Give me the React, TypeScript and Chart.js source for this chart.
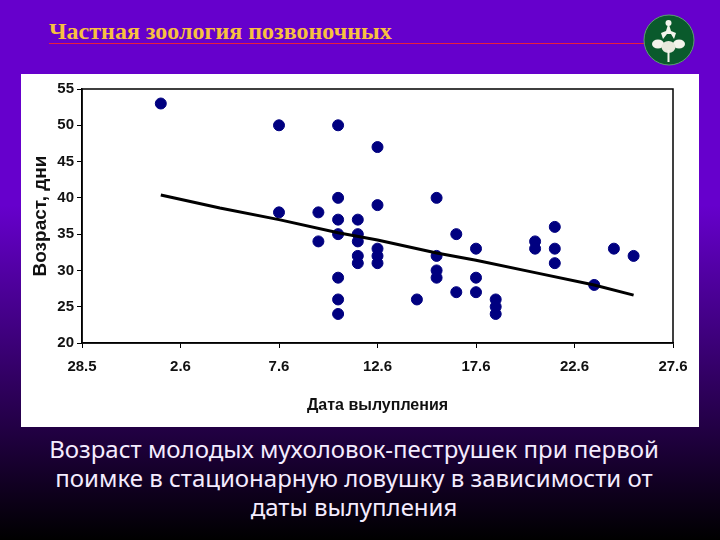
import React, { useEffect, useRef } from 'react';
import { Chart, registerables } from 'chart.js';

Chart.register(...registerables);

// days are counted from 28.5 (tick every 5 days)
const TICK_LABELS = ['28.5', '2.6', '7.6', '12.6', '17.6', '22.6', '27.6'];

const HATCH_DAYS = [
  4, 10, 10, 12, 12, 13, 13, 13, 13, 13, 13, 13,
  14, 14, 14, 14, 14, 15, 15, 15, 15, 15, 17,
  18, 18, 18, 18, 19, 19, 20, 20, 20, 21, 21, 21,
  23, 23, 24, 24, 24, 26, 27, 28,
];
const AGES = [
  53, 50, 38, 38, 34, 50, 40, 37, 35, 29, 26, 24,
  37, 35, 34, 32, 31, 47, 39, 33, 32, 31, 26,
  40, 32, 30, 29, 35, 27, 33, 29, 27, 26, 25, 24,
  34, 33, 36, 33, 31, 28, 33, 32,
];

const TREND_DAYS = [4, 7, 10, 13, 15, 18, 20, 23, 26, 28];
const TREND_AGES = [40.4, 38.6, 37, 35.2, 34.2, 32.4, 31.4, 29.7, 28, 26.6];

const frame = {
  id: 'frame',
  afterDraw(chart: Chart) {
    const { ctx, chartArea: a } = chart;
    ctx.save();
    ctx.strokeStyle = '#000';
    ctx.lineWidth = 1.5;
    ctx.strokeRect(a.left, a.top, a.right - a.left, a.bottom - a.top);
    ctx.restore();
  },
};

const App: React.FC = () => {
  const canvasRef = useRef<HTMLCanvasElement>(null);

  useEffect(() => {
    if (!canvasRef.current) return;
    const tickFont = { family: '"Liberation Sans Narrow", "Liberation Sans"', size: 15, weight: 'bold' as const };
    const chart = new Chart(canvasRef.current, {
      type: 'scatter',
      data: {
        datasets: [
          {
            label: 'Тренд',
            type: 'line',
            data: TREND_DAYS.map((x, i) => ({ x, y: TREND_AGES[i] })),
            borderColor: '#000',
            borderWidth: 3,
            pointRadius: 0,
            fill: false,
            order: 1,
          },
          {
            label: 'Возраст',
            data: HATCH_DAYS.map((x, i) => ({ x, y: AGES[i] })),
            backgroundColor: '#000080',
            borderColor: '#000080',
            pointRadius: 5.5,
            order: 2,
          },
        ],
      },
      options: {
        animation: false,
        responsive: false,
        layout: { padding: { top: 15, right: 26 } },
        plugins: { legend: { display: false }, tooltip: { enabled: false } },
        scales: {
          x: {
            type: 'linear',
            min: 0,
            max: 30,
            afterFit: (s: any) => { s.height = 84; },
            ticks: {
              stepSize: 5,
              color: '#111',
              font: tickFont,
              padding: 10,
              maxRotation: 0,
              callback: (v) => TICK_LABELS[Number(v) / 5],
            },
            grid: { drawOnChartArea: false, tickLength: 5, color: '#000' },
            border: { color: '#000', width: 1.5 },
            title: {
              display: true,
              text: 'Дата вылупления',
              color: '#111',
              padding: { bottom: 12 },
              font: { family: '"Liberation Sans"', size: 16, weight: 'bold' },
            },
          },
          y: {
            min: 20,
            max: 55,
            afterFit: (s: any) => { s.width = 61; },
            ticks: { stepSize: 5, color: '#111', font: tickFont, padding: 3 },
            grid: { drawOnChartArea: false, tickLength: 5, color: '#000' },
            border: { color: '#000', width: 1.5 },
            title: {
              display: true,
              text: 'Возраст, дни',
              color: '#111',
              padding: { top: 8 },
              font: { family: '"Liberation Sans"', size: 19, weight: 'bold' },
            },
          },
        },
      },
      plugins: [frame],
    });
    return () => chart.destroy();
  }, []);

  return (
    <div
      style={{
        position: 'absolute',
        left: 0,
        top: 0,
        width: 720,
        height: 540,
        overflow: 'hidden',
        background: 'linear-gradient(#6600cc 0%, #6600cc 38%, #000 100%)',
      }}
    >
      <div
        style={{
          position: 'absolute',
          left: 49,
          top: 18,
          color: '#f8c040',
          fontFamily: '"Liberation Serif"',
          fontWeight: 'bold',
          fontSize: 24,
          lineHeight: '26px',
          whiteSpace: 'nowrap',
        }}
      >
        Частная зоология позвоночных
      </div>
      <div style={{ position: 'absolute', left: 49, top: 43, width: 596, height: 1, background: '#e8203c' }} />
      <svg style={{ position: 'absolute', left: 643, top: 14 }} width={52} height={52} viewBox="0 0 52 52">
        <ellipse cx={26} cy={26} rx={25} ry={25} fill="#0a5a2c" stroke="#5aa070" strokeWidth={1} />
        <circle cx={25.5} cy={9} r={3} fill="#f4f4ec" />
        <path d="M25.5 9 L23 17 L18 19 L20 25 L24 20 L28 20 L31 25 L33 19 L28 17 Z" fill="#f4f4ec" />
        <ellipse cx={15} cy={30} rx={6} ry={4.5} fill="#f4f4ec" />
        <ellipse cx={36} cy={30} rx={6} ry={4.5} fill="#f4f4ec" />
        <ellipse cx={25.5} cy={33} rx={7} ry={6} fill="#e8e8dc" />
        <rect x={24.5} y={36} width={2} height={12} fill="#f4f4ec" />
      </svg>
      <div
        style={{
          position: 'absolute',
          left: 21,
          top: 74,
          width: 678,
          height: 353,
          background: '#fff',
        }}
      >
        <canvas ref={canvasRef} width={678} height={353} style={{ display: 'block' }} />
      </div>
      <div
        style={{
          position: 'absolute',
          left: 0,
          top: 434,
          width: 708,
          textAlign: 'center',
          color: '#f4ecff',
          fontFamily: '"Noto Sans"',
          fontSize: 24,
          lineHeight: '29px',
          whiteSpace: 'nowrap',
        }}
      >
        Возраст молодых мухоловок-пеструшек при первой
        <br />
        поимке в стационарную ловушку в зависимости от
        <br />
        даты вылупления
      </div>
    </div>
  );
};

export default App;
